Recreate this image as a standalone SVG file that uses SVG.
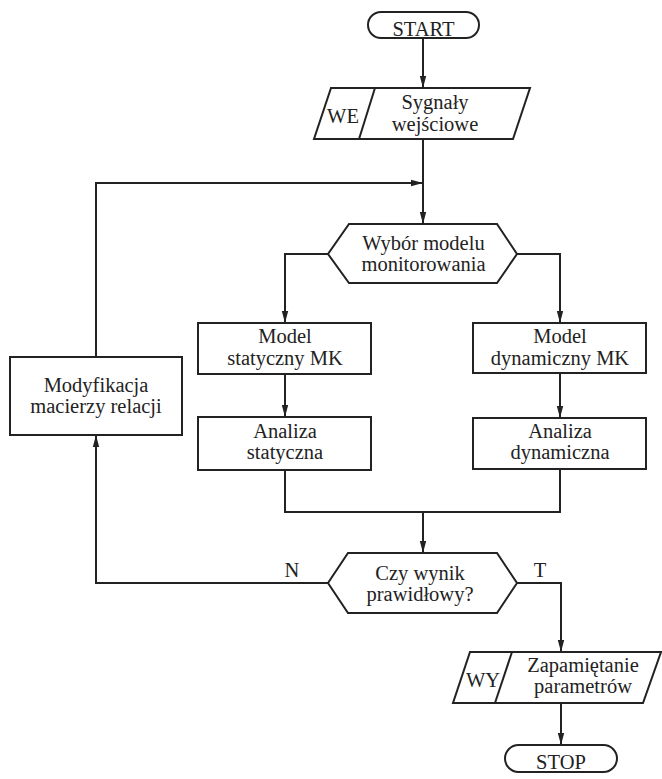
<svg xmlns="http://www.w3.org/2000/svg" width="662" height="779" viewBox="0 0 662 779">
<style>
.s{fill:#fff;stroke:#222;stroke-width:2;stroke-linejoin:miter}
.c{fill:none;stroke:#222;stroke-width:2}
.t{font-family:"Liberation Serif","Times New Roman",serif;font-size:20.5px;fill:#222;text-anchor:middle}
</style>
<defs>
<marker id="ah" markerUnits="userSpaceOnUse" markerWidth="12" markerHeight="8" viewBox="0 0 12 8" refX="12" refY="4" orient="auto">
<path d="M0,0.8 L12,4 L0,7.2 z" fill="#222"/>
</marker>
</defs>
<rect width="662" height="779" fill="#fff"/>
<g id="connectors">
<path class="c" d="M423,38 V88" marker-end="url(#ah)"/>
<path class="c" d="M423,139 V224" marker-end="url(#ah)"/>
<path class="c" d="M96,357 V183 H423" marker-end="url(#ah)"/>
<path class="c" d="M328,254 H285 V323" marker-end="url(#ah)"/>
<path class="c" d="M517,254 H560 V323" marker-end="url(#ah)"/>
<path class="c" d="M285,374 V417" marker-end="url(#ah)"/>
<path class="c" d="M560,373 V418" marker-end="url(#ah)"/>
<path class="c" d="M285,470 V512 H560 V469"/>
<path class="c" d="M423,512 V553" marker-end="url(#ah)"/>
<path class="c" d="M328,583 H96 V435" marker-end="url(#ah)"/>
<path class="c" d="M517,583 H561 V652" marker-end="url(#ah)"/>
<path class="c" d="M561,703 V745" marker-end="url(#ah)"/>
<text class="t" x="292" y="577">N</text>
<text class="t" x="540" y="577">T</text>
</g>
<g id="start">
<rect class="s" x="368" y="12" width="111" height="26" rx="13"/>
<text class="t" x="423.5" y="35.5">START</text>
</g>
<g id="input">
<path class="s" d="M331,88 H530 L513,139 H314 Z"/>
<path class="c" d="M375,88 L359,139"/>
<text class="t" x="343" y="123">WE</text>
<text class="t" x="435" y="109">Sygnały</text>
<text class="t" x="435" y="130.5">wejściowe</text>
</g>
<g id="choose">
<path class="s" d="M349,224 H497 L517,254 L497,283 H349 L328,254 Z"/>
<text class="t" x="423.5" y="250">Wybór modelu</text>
<text class="t" x="423.5" y="271">monitorowania</text>
</g>
<g id="static-model">
<rect class="s" x="198" y="323" width="173" height="51"/>
<text class="t" x="285" y="343">Model</text>
<text class="t" x="285" y="365">statyczny MK</text>
</g>
<g id="static-analysis">
<rect class="s" x="198" y="417" width="173" height="53"/>
<text class="t" x="285" y="438">Analiza</text>
<text class="t" x="285" y="459">statyczna</text>
</g>
<g id="dynamic-model">
<rect class="s" x="473" y="323" width="173" height="50"/>
<text class="t" x="560" y="343">Model</text>
<text class="t" x="560" y="365">dynamiczny MK</text>
</g>
<g id="dynamic-analysis">
<rect class="s" x="473" y="418" width="173" height="51"/>
<text class="t" x="560" y="438">Analiza</text>
<text class="t" x="560" y="459">dynamiczna</text>
</g>
<g id="modify">
<rect class="s" x="10" y="357" width="172" height="78"/>
<text class="t" x="96" y="392">Modyfikacja</text>
<text class="t" x="96" y="413">macierzy relacji</text>
</g>
<g id="decision">
<path class="s" d="M348,553 H497 L517,583 L497,613 H348 L328,583 Z"/>
<text class="t" x="420" y="580">Czy wynik</text>
<text class="t" x="420" y="601">prawidłowy?</text>
</g>
<g id="output">
<path class="s" d="M470,652 H661 L643,703 H453 Z"/>
<path class="c" d="M512,652 L495,703"/>
<text class="t" x="483" y="687">WY</text>
<text class="t" x="583" y="672">Zapamiętanie</text>
<text class="t" x="583" y="693">parametrów</text>
</g>
<g id="stop">
<rect class="s" x="505" y="745" width="112" height="27" rx="13.5"/>
<text class="t" x="561" y="769">STOP</text>
</g>
</svg>
